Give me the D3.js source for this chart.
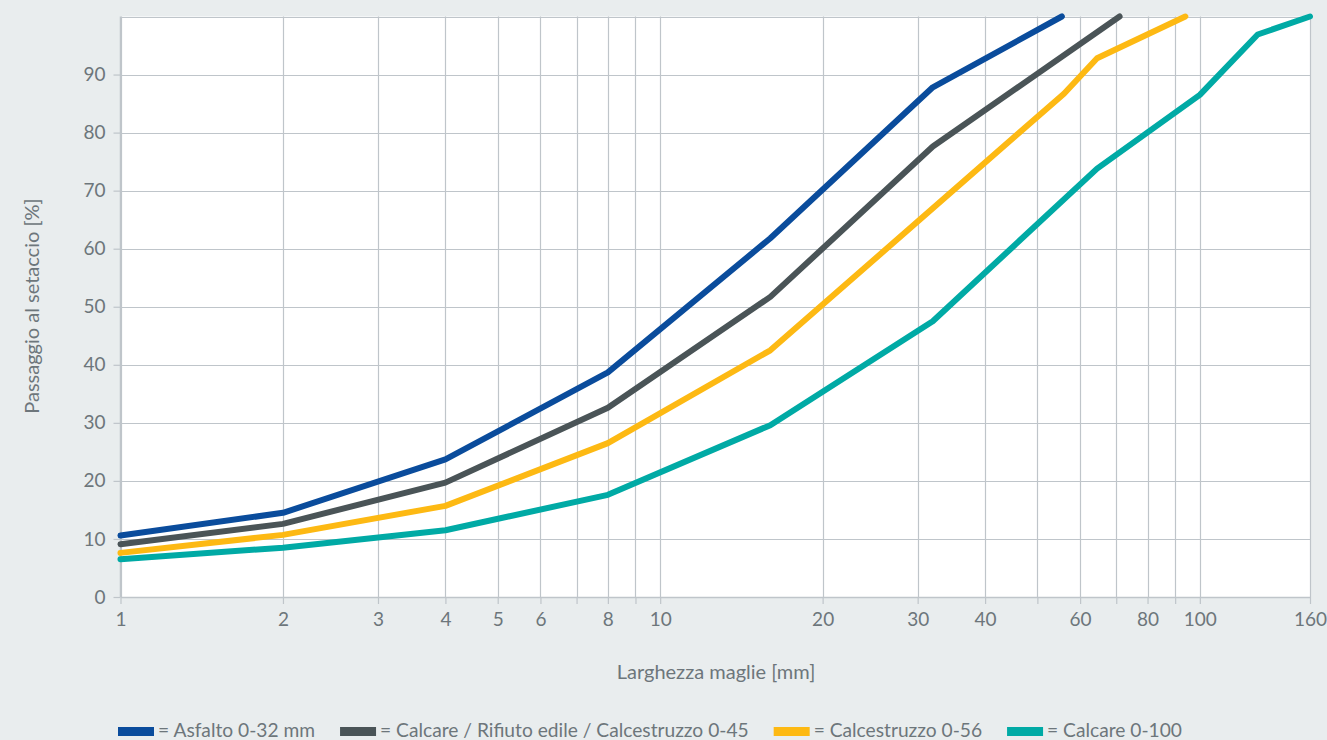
<!DOCTYPE html>
<html>
<head>
<meta charset="utf-8">
<script src="https://cdn.jsdelivr.net/npm/d3@7"></script>
<style>
  html, body { margin: 0; padding: 0; background: #e9edee; }
  svg { display: block; }
  text { font-family: Lato, "Open Sans", sans-serif; fill: #6d767b; }
</style>
</head>
<body>
<svg></svg>
<script>
// sieve sizes [mm] and passing [%] per material
var asfaltoX = [1, 2, 4, 8, 16, 32, 55.5];
var asfaltoY = [10.6, 14.5, 23.7, 38.7, 61.8, 87.8, 100];

var misto45X = [1, 2, 4, 8, 16, 32, 71];
var misto45Y = [9.1, 12.6, 19.7, 32.6, 51.7, 77.6, 100];

var calcestruzzoX = [1, 2, 4, 8, 16, 56, 64.5, 94];
var calcestruzzoY = [7.6, 10.7, 15.7, 26.5, 42.5, 86.7, 92.8, 100];

var calcareX = [1, 2, 4, 8, 16, 32, 64.5, 100, 128, 160];
var calcareY = [6.5, 8.5, 11.5, 17.6, 29.6, 47.5, 73.8, 86.5, 96.9, 100];

var seriesNames = ["= Asfalto 0-32 mm", "= Calcare / Rifiuto edile / Calcestruzzo 0-45", "= Calcestruzzo 0-56", "= Calcare 0-100"];
var seriesColors = ["#0a4c9c", "#4a5457", "#fdb913", "#00aaa5"];

var xGrid = [1, 2, 3, 4, 5, 6, 7, 8, 9, 10, 20, 30, 40, 50, 60, 70, 80, 90, 100, 160];
var xLabels = [1, 2, 3, 4, 5, 6, 8, 10, 20, 30, 40, 60, 80, 100, 160];
var yTicks = [0, 10, 20, 30, 40, 50, 60, 70, 80, 90];
var yGrid = [10, 20, 30, 40, 50, 60, 70, 80, 90, 100];

var width = 1327, height = 740;
var plotL = 120.5, plotR = 1310, plotT = 16.5, plotB = 597;
var gridColor = "#bfc5ca";

var svg = d3.select("svg").attr("width", width).attr("height", height);

var x = d3.scaleLog().domain([1, 160]).range([plotL, plotR]);
var y = d3.scaleLinear().domain([0, 100]).range([plotB, plotT]);

// plot background
svg.append("rect")
  .attr("x", plotL).attr("y", plotT)
  .attr("width", plotR - plotL).attr("height", plotB - plotT)
  .attr("fill", "#ffffff");

// grid
svg.append("g").selectAll("line")
  .data(xGrid).enter().append("line")
  .attr("x1", d => Math.round(x(d)) + 0.5).attr("x2", d => Math.round(x(d)) + 0.5)
  .attr("y1", plotT).attr("y2", plotB)
  .attr("stroke", gridColor).attr("stroke-width", 1.2);

svg.append("g").selectAll("line")
  .data(yGrid).enter().append("line")
  .attr("x1", plotL).attr("x2", plotR)
  .attr("y1", d => Math.round(y(d)) + 0.5).attr("y2", d => Math.round(y(d)) + 0.5)
  .attr("stroke", gridColor).attr("stroke-width", 1.2);

// axes
var xAxis = d3.axisBottom(x)
  .tickValues(xGrid)
  .tickSizeInner(7).tickSizeOuter(0).tickPadding(9)
  .tickFormat(d => xLabels.indexOf(d) >= 0 ? d : "");

var gx = svg.append("g")
  .attr("transform", `translate(0,${plotB})`)
  .call(xAxis);

var yAxis = d3.axisLeft(y)
  .tickValues(yTicks)
  .tickSizeInner(7).tickSizeOuter(0).tickPadding(8);

var gy = svg.append("g")
  .attr("transform", `translate(${plotL},0)`)
  .call(yAxis);

[gx, gy].forEach(function(g) {
  g.select(".domain").attr("stroke", gridColor).attr("stroke-width", 1.5);
  g.selectAll(".tick line").attr("stroke", gridColor).attr("stroke-width", 1.2);
  g.selectAll(".tick text")
    .style("font-family", 'Lato, "Open Sans", sans-serif')
    .style("font-size", "19px")
    .attr("fill", "#6d767b");
});
gy.select(".domain").attr("d", `M0,${plotT}V${plotB}`);

// lines
var seriesData = [
  d3.zip(asfaltoX, asfaltoY),
  d3.zip(misto45X, misto45Y),
  d3.zip(calcestruzzoX, calcestruzzoY),
  d3.zip(calcareX, calcareY)
];

var line = d3.line()
  .x(d => x(d[0]))
  .y(d => y(d[1]));

svg.append("g").selectAll("path")
  .data(seriesData).enter().append("path")
  .attr("d", line)
  .attr("fill", "none")
  .attr("stroke", (d, i) => seriesColors[i])
  .attr("stroke-width", 6)
  .attr("stroke-linecap", "round")
  .attr("stroke-linejoin", "round");

// axis titles
svg.append("text")
  .attr("transform", "rotate(-90)")
  .attr("x", -306)
  .attr("y", 39)
  .style("text-anchor", "middle")
  .style("font-size", "20px")
  .text("Passaggio al setaccio [%]");

svg.append("text")
  .attr("x", 716)
  .attr("y", 679)
  .style("text-anchor", "middle")
  .style("font-size", "20px")
  .text("Larghezza maglie [mm]");

// legend
var lx = 118;
seriesNames.forEach(function(name, i) {
  svg.append("rect")
    .attr("x", lx).attr("y", 727)
    .attr("width", 36).attr("height", 9)
    .attr("fill", seriesColors[i]);
  var t = svg.append("text")
    .attr("x", lx + 40).attr("y", 737)
    .style("font-size", "19.2px")
    .text(name);
  lx += 40 + t.node().getComputedTextLength() + 25;
});
</script>
</body>
</html>
